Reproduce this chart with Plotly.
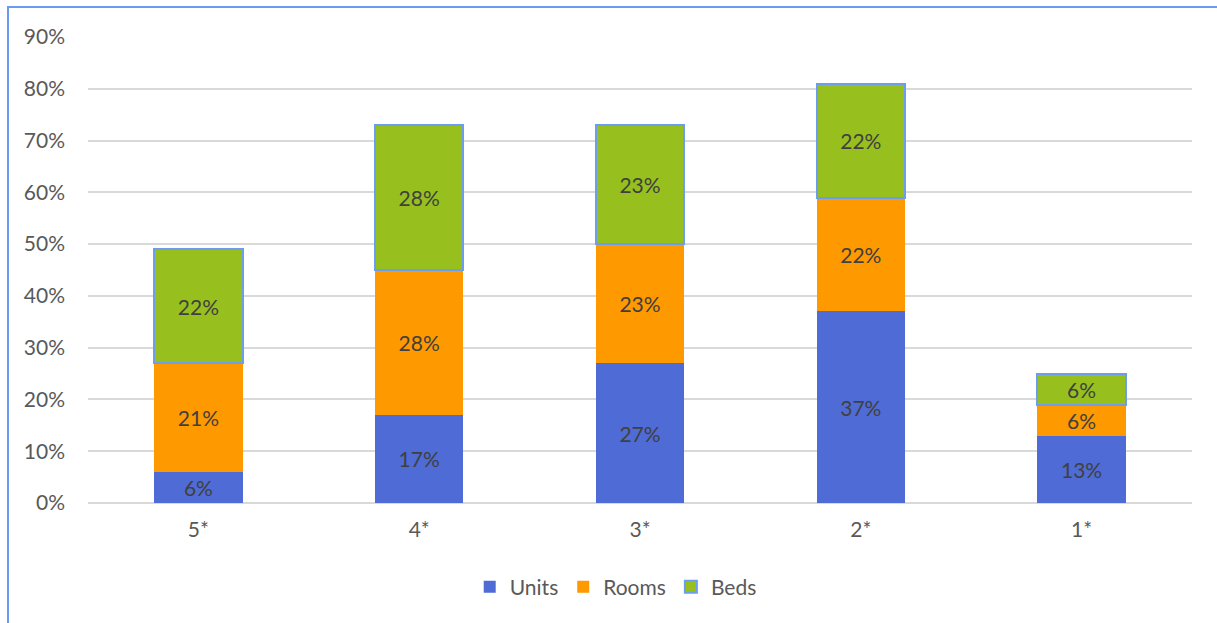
import plotly.graph_objects as go

categories = ["5*", "4*", "3*", "2*", "1*"]
units = [6, 17, 27, 37, 13]
rooms = [21, 28, 23, 22, 6]
beds = [22, 28, 23, 22, 6]

font_family = "Lato, 'Open Sans', sans-serif"
label_font = dict(family=font_family, size=21, color="#404040")

fig = go.Figure()
series = [
    ("Units", units, "#4F6BD5", None),
    ("Rooms", rooms, "#FF9900", None),
    ("Beds", beds, "#97C01F", "#6D9EEB"),
]
for name, vals, color, line in series:
    fig.add_trace(go.Bar(
        name=name, x=categories, y=vals,
        marker=dict(color=color,
                    line=dict(color=line if line else color, width=2 if line else 0)),
        text=[f"{v}%" for v in vals],
        textposition="inside", insidetextanchor="middle",
        textfont=label_font,
    ))

fig.update_layout(
    barmode="stack", bargap=0.6,
    width=1217, height=623,
    margin=dict(l=88, r=25, t=37, b=120, autoexpand=False),
    paper_bgcolor="white", plot_bgcolor="white",
    font=dict(family=font_family, size=21, color="#595959"),
    legend=dict(orientation="h", x=0.478, xanchor="center", yref="container",
                y=1 - 587 / 623, yanchor="middle",
                font=dict(family=font_family, size=21, color="#595959"),
                traceorder="normal", itemwidth=30),
    xaxis=dict(showgrid=False, showline=False, ticks="", ticklabelstandoff=12,
               tickfont=dict(size=21, color="#595959")),
    yaxis=dict(range=[0, 90], dtick=10, ticksuffix="%", showgrid=True,
               gridcolor="#D9D9D9", gridwidth=1.5, zeroline=True, zerolinecolor="#D9D9D9",
               zerolinewidth=1.5, showline=False, ticks="", ticklabelstandoff=22,
               tickfont=dict(size=21, color="#595959")),
    shapes=[dict(type="rect", xref="paper", yref="paper",
                 x0=(8 - 88) / 1104, x1=(1240 - 88) / 1104,
                 y0=-(640 - 503) / 466, y1=(503 - 7) / 466,
                 line=dict(color="#6A9BF0", width=2), fillcolor="rgba(0,0,0,0)", layer="below")],
)

fig.write_html("out.html")
